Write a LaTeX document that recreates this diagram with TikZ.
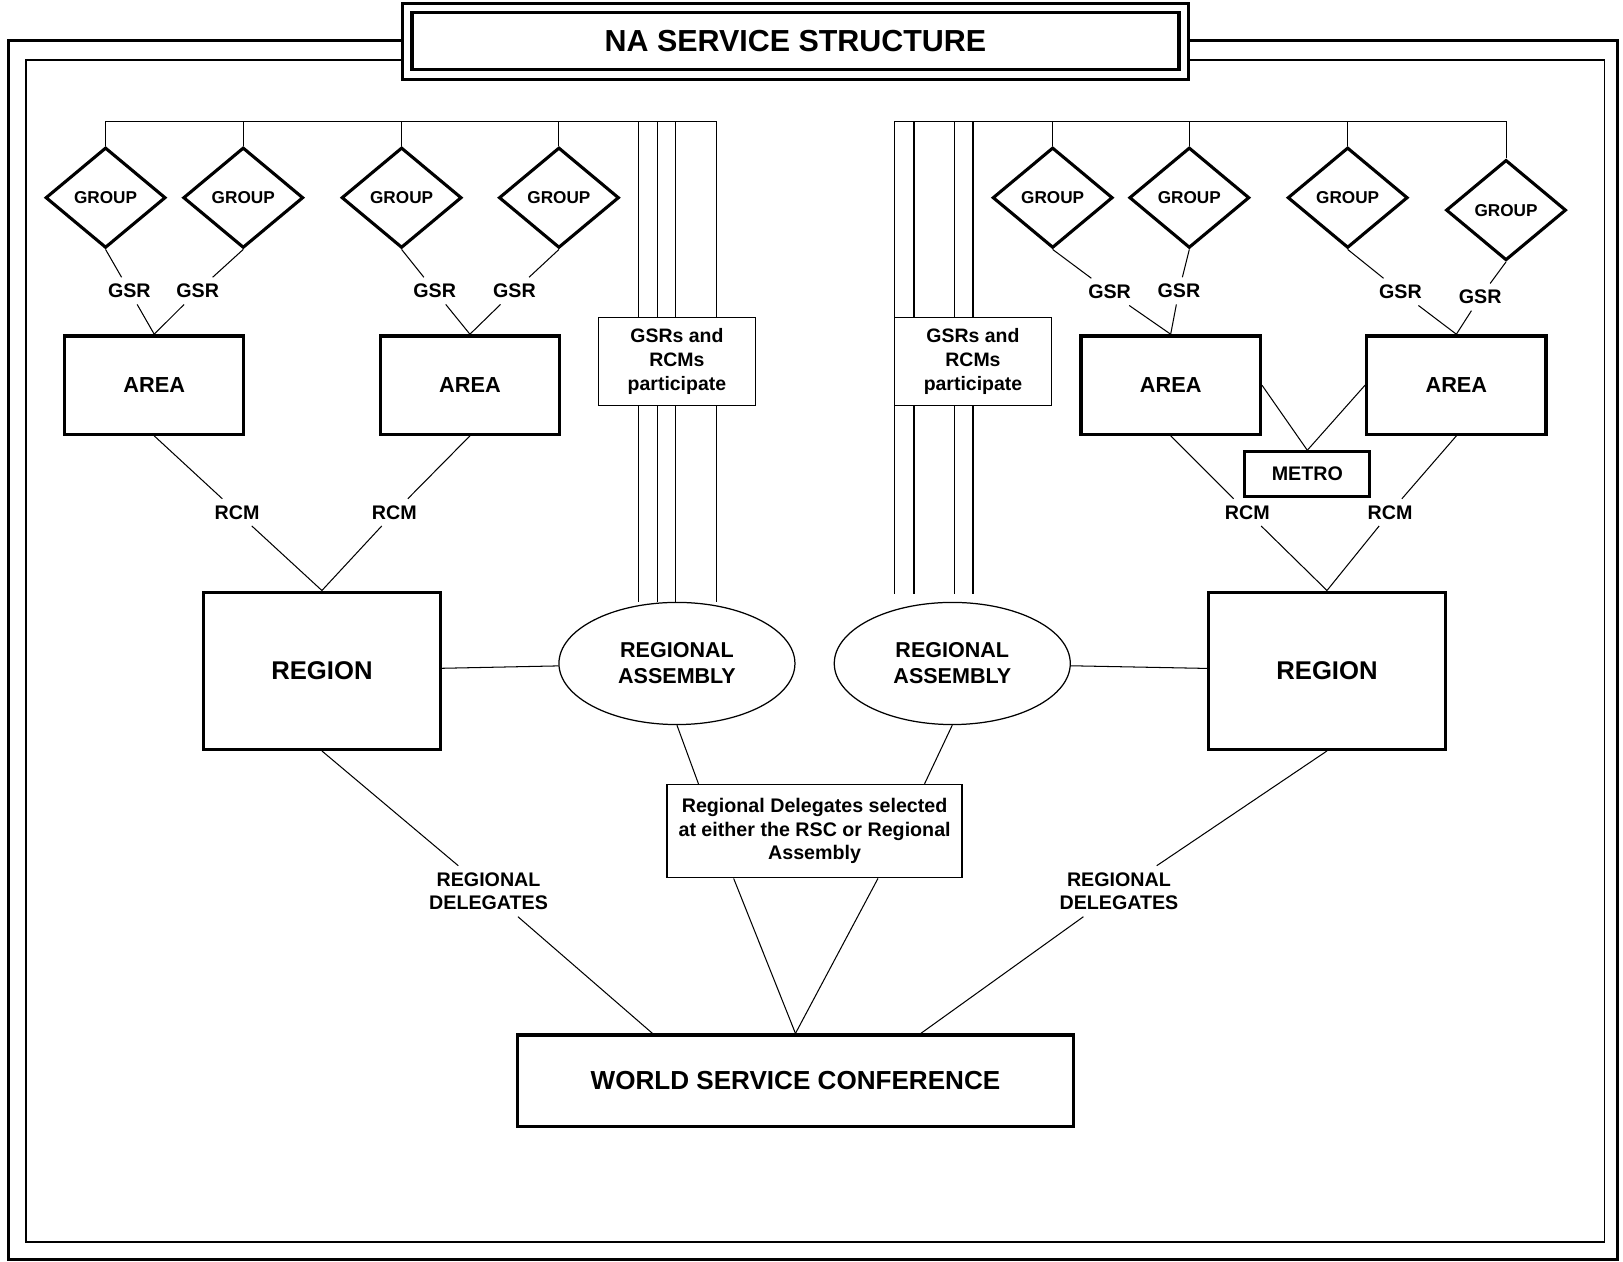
\documentclass[tikz,border=0pt]{standalone}
\usepackage{fontspec}
\setmainfont{Liberation Sans}
\usetikzlibrary{shapes.geometric}

\begin{document}
\begin{tikzpicture}[x=0.5pt,y=-0.5pt,
  group/.style={diamond,draw,line width=1.5pt,minimum width=58pt,minimum height=48.5pt,inner sep=0pt,font=\bfseries\fontsize{8.3}{10}\selectfont},
  area/.style={rectangle,draw,line width=1.6pt,minimum width=86.5pt,minimum height=47.5pt,font=\bfseries\fontsize{10.5}{12}\selectfont},
  region/.style={rectangle,draw,line width=1.5pt,minimum width=114.5pt,minimum height=76pt,font=\bfseries\fontsize{12.4}{14}\selectfont},
  assembly/.style={ellipse,draw,line width=0.6pt,minimum width=114pt,minimum height=59pt,inner sep=0pt,align=center,font=\bfseries\fontsize{10.4}{12.5}\selectfont},
  note/.style={rectangle,draw,fill=white,line width=0.7pt,inner sep=0pt,align=center,font=\bfseries\fontsize{9.4}{11.5}\selectfont},
  lbl/.style={inner sep=3pt,align=center,font=\bfseries\fontsize{9.5}{11.5}\selectfont},
  conn/.style={line width=0.5pt}]
  \useasboundingbox (0,0) rectangle (1568,1219);
  \draw[line width=1.5pt] (387,39) -| (8,1217) -| (1563,39) -- (1150,39);
  \draw[line width=0.8pt] (387,58) -| (25,1200) -| (1550,58) -- (1150,58);
  \node[draw,double,line width=1.5pt,double distance=3pt,fill=white,minimum width=375pt,minimum height=32pt,font=\bfseries\fontsize{14.7}{17}\selectfont] (title) at (768.5,40) {NA SERVICE STRUCTURE};

  \foreach \x/\y [count=\i] in {102/191,235/191,388/191,540/191,1017/191,1149/191,1302/191,1455/203}
    \node[group] (g\i) at (\x,\y) {GROUP};
  \foreach \x/\y [count=\i] in {125/281,191/281,420/281,497/281,1072/282,1139/281,1353/282,1430/287}
    \node[lbl] (gsr\i) at (\x,\y) {GSR};
  \node[area] (a1) at (149,372) {AREA};
  \node[area] (a2) at (454,372) {AREA};
  \node[area] (a3) at (1131,372) {AREA};
  \node[area] (a4) at (1407,372) {AREA};
  \node[rectangle,draw,line width=1.5pt,minimum width=60.5pt,minimum height=21.5pt,font=\bfseries\fontsize{9.5}{11}\selectfont] (m) at (1263,458) {METRO};
  \foreach \x/\n in {229/1,381/2,1205/3,1343/4}
    \node[lbl] (rcm\n) at (\x,495) {RCM};
  \node[region] (r1) at (311,648) {REGION};
  \node[region] (r2) at (1282,648) {REGION};
  \node[assembly] (e1) at (654,641) {REGIONAL\\ASSEMBLY};
  \node[assembly] (e2) at (920,641) {REGIONAL\\ASSEMBLY};
  \node[lbl] (rd1) at (472,861) {REGIONAL\\DELEGATES};
  \node[lbl] (rd2) at (1081,861) {REGIONAL\\DELEGATES};
  \node[rectangle,draw,line width=1.6pt,minimum width=268.5pt,minimum height=44pt,font=\bfseries\fontsize{12.6}{15}\selectfont] (w) at (768.5,1044) {WORLD SERVICE CONFERENCE};

  \coordinate (e2top) at ([yshift=4pt]e2.north);
  \foreach \x [count=\i] in {617,635,653,692} {
    \coordinate (ql\i) at (\x,117);
    \draw[conn] (ql\i) -- (ql\i |- e1.north);
  }
  \foreach \x [count=\i] in {864,883,922,940} {
    \coordinate (qr\i) at (\x,117);
    \draw[conn] (qr\i) -- (qr\i |- e2top);
  }
  \draw[conn] (g1.north |- ql4) -- (ql4);
  \draw[conn] (qr1) -- (g8.north |- qr1);
  \foreach \i in {1,...,4} \draw[conn] (g\i.north) -- (g\i.north |- ql1);
  \foreach \i in {5,...,8} \draw[conn] (g\i.north) -- (g\i.north |- qr1);

  \node[note,minimum width=76pt,minimum height=42.5pt] (p1) at (654,349) {GSRs and\\RCMs\\participate};
  \node[note,minimum width=76pt,minimum height=42.5pt] (p2) at (940,349) {GSRs and\\RCMs\\participate};
  \node[note,minimum width=142.5pt,minimum height=45pt,font=\bfseries\fontsize{9.5}{11.3}\selectfont] (d) at (787,803) {Regional Delegates selected\\at either the RSC or Regional\\Assembly};

  \foreach \i/\a in {1/1,2/1,3/2,4/2,5/3,6/3,7/4,8/4}
    \path[conn] (g\i.south) edge (gsr\i) (gsr\i) edge (a\a.north);
  \foreach \i/\r in {1/1,2/1,3/2,4/2}
    \path[conn] (a\i.south) edge (rcm\i) (rcm\i) edge (r\r.north);
  \path[conn] (a3.east) edge (m.north)
              (a4.west) edge (m.north)
              (r1) edge (e1)
              (e2) edge (r2)
              (e1.south) edge ([xshift=15.5pt]d.north west)
              (e2.south) edge ([xshift=-18.5pt]d.north east)
              ([xshift=32.5pt]d.south west) edge (w.north)
              ([xshift=-41pt]d.south east) edge (w.north)
              (r1.south) edge (rd1)
              (rd1) edge ([xshift=66pt]w.north west)
              (r2.south) edge (rd2)
              (rd2) edge ([xshift=-74.5pt]w.north east);
\end{tikzpicture}
\end{document}
